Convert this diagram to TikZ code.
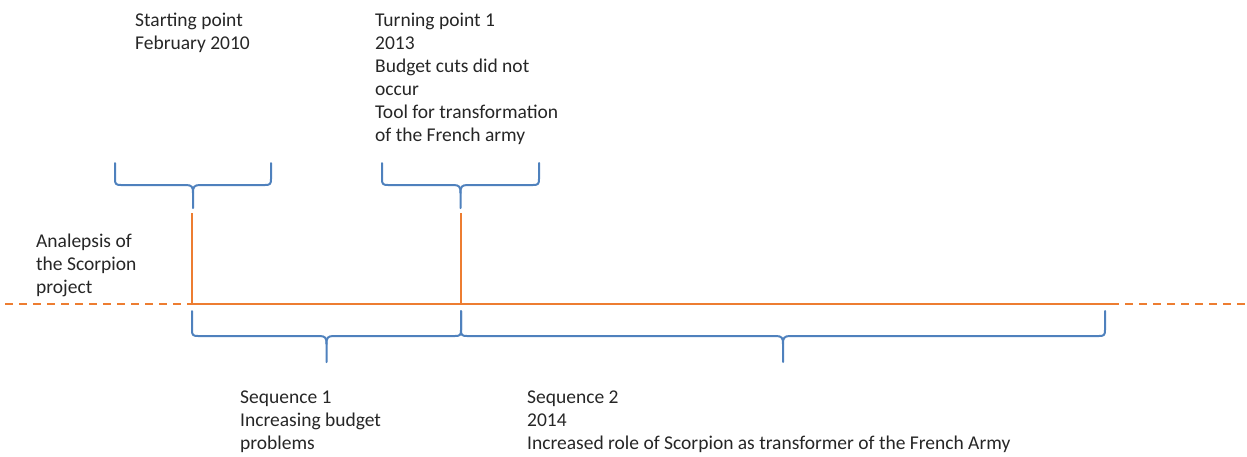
\documentclass[tikz,border=0pt]{standalone}
\usepackage{fontspec}
\setmainfont{Carlito}
\definecolor{tlorange}{HTML}{ED7D31}
\definecolor{brblue}{HTML}{4F81BD}
\definecolor{txt}{HTML}{262626}
\tikzset{
  tl/.style={draw=tlorange, line width=2pt},
  tldash/.style={draw=tlorange, line width=2pt, dash pattern=on 8pt off 6pt},
  bracestyle/.style={draw=brblue, line width=2pt, line cap=round, line join=round},
  lbl/.style={anchor=base west, inner sep=0pt, text=txt,
    font=\fontsize{19.5}{23}\selectfont}
}
\newcommand{\mylines}[1]{\begin{tabular}[t]{@{}l@{}}#1\end{tabular}}
\newcommand{\mybrace}[5]{%
  \pgfmathsetmacro\xm{(#1+#2)/2}%
  \draw[bracestyle] (#1,#3) -- (#1,#4-6) .. controls (#1,#4-1) and (#1+1,#4) .. (#1+6,#4)
     -- (\xm-7,#4) .. controls (\xm-1,#4) and (\xm,#4+2) .. (\xm,#4+8) -- (\xm,#5);
  \draw[bracestyle] (#2,#3) -- (#2,#4-6) .. controls (#2,#4-1) and (#2-1,#4) .. (#2-6,#4)
     -- (\xm+7,#4) .. controls (\xm+1,#4) and (\xm,#4+2) .. (\xm,#4+8);
}
\begin{document}
\begin{tikzpicture}[x=1pt,y=-1pt]
\useasboundingbox (0,0) rectangle (1247,456);
% timeline coordinates
\coordinate (L) at (5,304);
\coordinate (A) at (192,304);
\coordinate (B) at (461,304);
\coordinate (C) at (1111,304);
\coordinate (R) at (1247,304);
\coordinate (Atop) at (192,213);
\coordinate (Btop) at (461,213);
\draw[tldash] (L) -- (A);
\draw[tl] (A) -- (C);
\draw[tldash] (C) -- (R);
\draw[tl] (A) -- (Atop);
\draw[tl] (B) -- (Btop);
% braces
\mybrace{115}{271}{163}{185}{208}
\mybrace{382}{539}{163}{185}{208}
\mybrace{192}{461}{311}{336}{362}
\mybrace{461}{1105}{311}{336}{362}
% labels
\node[lbl] (start) at (135,26) {\mylines{Starting point\\February 2010}};
\node[lbl] (turn) at (375,26) {\mylines{Turning point 1\\2013\\Budget cuts did not\\occur\\Tool for transformation\\of the French army}};
\node[lbl] (ana) at (36,247) {\mylines{Analepsis of\\the Scorpion\\project}};
\node[lbl] (seq1) at (240,403) {\mylines{Sequence 1\\Increasing budget\\problems}};
\node[lbl] (seq2) at (527,403) {\mylines{Sequence 2\\2014\\Increased role of Scorpion as transformer of the French Army}};
\end{tikzpicture}
\end{document}
